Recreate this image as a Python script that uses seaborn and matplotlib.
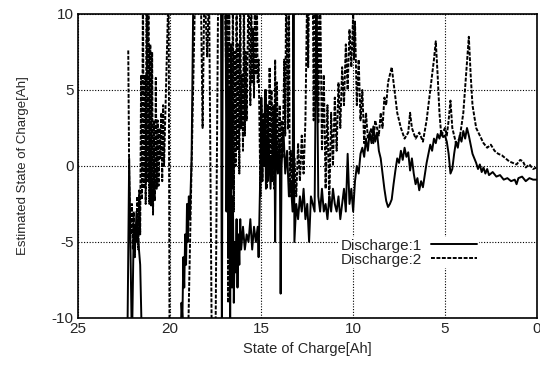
import numpy as np
import pandas as pd
import matplotlib
matplotlib.use("Agg")
import matplotlib.pyplot as plt
import seaborn as sns

# Discharge 1 (solid), values beyond +-10 are clipped
soc_1 = [22.35, 22.3, 22.2, 22.05, 21.95, 21.9, 21.8, 21.7, 21.6, 21.5, 19.4,
         19.35, 19.3, 19.25, 19.2, 19.15, 19.1, 19.05, 19.0, 18.95, 18.9, 18.8, 18.7,
         17.2, 17.15, 17.1, 16.95, 16.9, 16.85, 16.8, 16.75, 16.7, 16.65, 16.6, 16.55,
         16.5, 16.45, 16.4, 16.35, 16.3, 16.25, 16.2, 16.15, 16.1, 16.0, 15.9, 15.8,
         15.7, 15.6, 15.5, 15.4, 15.3, 15.2, 15.15, 15.1, 15.05, 15.0, 14.95, 14.9,
         14.85, 14.8, 14.75, 14.7, 14.65, 14.6, 14.5, 14.45, 14.4, 14.3, 14.25, 14.2,
         14.1, 14.0, 13.95, 13.9, 13.8, 13.7, 13.6, 13.5, 13.4, 13.3, 13.25, 13.2,
         13.1, 13.0, 12.9, 12.8, 12.7, 12.6, 12.5, 12.4, 12.3, 12.1, 12.0, 11.9,
         11.8, 11.7, 11.6, 11.5, 11.4, 11.3, 11.2, 11.1, 11.0, 10.9, 10.8, 10.7,
         10.6, 10.5, 10.4, 10.3, 10.2, 10.1, 10.0, 9.9, 9.8, 9.7, 9.6, 9.5, 9.4,
         9.3, 9.2, 9.1, 9.0, 8.9, 8.8, 8.7, 8.6, 8.5, 8.4, 8.3, 8.2, 8.1, 8.0, 7.9,
         7.8, 7.7, 7.6, 7.5, 7.4, 7.3, 7.2, 7.1, 7.0, 6.9, 6.8, 6.7, 6.6, 6.5, 6.4,
         6.3, 6.2, 6.1, 6.0, 5.9, 5.8, 5.7, 5.6, 5.5, 5.4, 5.3, 5.2, 5.1, 5.0, 4.9,
         4.8, 4.7, 4.6, 4.5, 4.4, 4.3, 4.2, 4.1, 4.0, 3.9, 3.8, 3.7, 3.6, 3.5, 3.4,
         3.3, 3.2, 3.1, 3.0, 2.9, 2.8, 2.7, 2.6, 2.4, 2.2, 2.0, 1.8, 1.6, 1.4, 1.2,
         1.1, 1.0, 0.8, 0.6, 0.4, 0.2, 0.0]
est_1 = [-12, -12, 0.5, -12, -4, -6, -3, -5, -6.5, -12, -12,
         -9, -10, -6, -8, -4.5, -6.5, -2.5, -5, -2, -3.5, 0.5, 12,
         12, -12, 12, 12, -3, 8, -6, 5, -10.5, 2, -8, -2,
         -9, -5, -7, -3.5, -8, -4.5, -6.5, -3.5, -5.5, -4, -5.5, -4.5,
         -5, -3.5, -5.5, -4, -5, -4, -6, -3, 0, 4.5, -1, 3,
         0, 5, -1.5, 2, -1, 1.5, -1.5, 0.5, -1, 4, -5, 2,
         -0.5, 1.5, -8.4, 0, 2.5, -0.5, 1, -2, -1, -3, 12, -5,
         -2.5, -3.5, -2, -3, -1.5, -3.5, -2.5, -5, -2, -3, 12, -2,
         -3, -1.5, -3, -2.5, -3.5, -2, -3, -1.5, -2.5, -3, -2, -3.5,
         -2.5, -1.5, -3, 0.8, -2.5, -1.5, -3, -1, 0, -0.5, 0.8, 1.2, 0.6,
         1.8, 1.0, 2.2, 1.5, 2.6, 1.6, 2.2, 1.0, 0.5, -0.5, -1.5, -2.3, -2.7, -2.5, -2.2,
         -1.2, -0.3, 0.5, 0.2, 1.0, 0.4, 1.2, 0.6, 0.9, -0.3, 0.5, -0.5, -1.2, -0.8, -1.6,
         -1.0, -1.4, -0.6, 0.2, 0.8, 1.4, 1.0, 1.8, 1.5, 2.1, 1.8, 2.3, 1.9, 2.0, 1.6,
         0.8, -0.5, -0.2, 0.8, 1.6, 1.2, 2.0, 1.6, 2.3, 1.8, 2.5, 2.0, 1.4, 0.8, 0.5,
         0.2, -0.2, 0.1, -0.4, -0.1, -0.5, -0.2, -0.6, -0.4, -0.7, -0.6, -0.9, -0.8, -1.0, -0.9,
         -1.2, -0.8, -0.7, -1.0, -0.8, -0.9, -0.9]

# Discharge 2 (dashed)
soc_2 = [22.25, 22.2, 22.15, 22.1, 22.05, 22.0, 21.95, 21.9, 21.85, 21.8, 21.75,
         21.7, 21.65, 21.6, 21.55, 21.5, 21.45, 21.4, 21.35, 21.3, 21.25, 21.2,
         21.15, 21.1, 21.05, 21.0, 20.95, 20.9, 20.85, 20.8, 20.75, 20.7, 20.65,
         20.6, 20.55, 20.5, 20.45, 20.4, 20.35, 20.3, 20.05, 20.0, 19.0, 18.6,
         18.3, 18.2, 18.1, 17.95, 17.85, 17.7, 17.5, 17.45, 17.35, 17.0, 16.9,
         16.85, 16.8, 16.75, 16.7, 16.65, 16.6, 16.55, 16.5, 16.45, 16.4, 16.35,
         16.3, 16.25, 16.2, 16.15, 16.1, 16.05, 16.0, 15.95, 15.9, 15.85, 15.8,
         15.7, 15.6, 15.55, 15.5, 15.45, 15.4, 15.35, 15.3, 15.25, 15.2, 15.15,
         15.05, 15.0, 14.95, 14.9, 14.8, 14.75, 14.7, 14.65, 14.6, 14.55, 14.5,
         14.45, 14.4, 14.35, 14.3, 14.25, 14.2, 14.15, 14.1, 14.0, 13.95, 13.9,
         13.85, 13.75, 13.7, 13.65, 13.55, 13.5, 13.45, 13.4, 13.3, 13.2, 13.1,
         13.0, 12.9, 12.8, 12.7, 12.6, 12.5, 12.45, 12.4, 12.2, 12.15, 12.1,
         11.95, 11.9, 11.8, 11.7, 11.6, 11.5, 11.4, 11.3, 11.2, 11.1, 11.0, 10.9,
         10.8, 10.7, 10.6, 10.5, 10.4, 10.3, 10.2, 10.1, 10.0, 9.95, 9.9, 9.8,
         9.7, 9.6, 9.5, 9.4, 9.3, 9.2, 9.0, 8.9, 8.8, 8.6, 8.5, 8.4, 8.3, 8.2,
         8.1, 8.0, 7.9, 7.8, 7.7, 7.6, 7.4, 7.2, 7.0, 6.9, 6.8, 6.6, 6.4, 6.2,
         6.0, 5.8, 5.6, 5.5, 5.4, 5.3, 5.2, 5.0, 4.9, 4.8, 4.7, 4.6, 4.4, 4.2,
         4.0, 3.85, 3.7, 3.6, 3.5, 3.3, 3.1, 2.9, 2.7, 2.5, 2.3, 2.1, 1.9, 1.7,
         1.5, 1.3, 1.1, 0.9, 0.75, 0.6, 0.4, 0.2, 0.0]
est_2 = [7.6, -0.5, -3.5, -4.5, -2.5, -5.5, -3, -6, -4, -5, -2,
         -5.5, -1.6, -4.5, 6, -2.2, 12, -1.5, 6, -2.5, 12, -1,
         12, -2.5, 8, -2.6, 7.5, -3.2, 3, -2.3, 5.8, -1.5, 3,
         -1.3, 2.5, 0.5, 3.5, -1, 4, 0, 12, -12, -12, 12,
         12, 2.5, 12, 7.2, 12, -12, -12, -4.2, 12, 12, 4.8,
         12, -9, 12, -7, 8, -1.5, 12, -3, 7.5, 0, 12,
         1, 8, -0.5, 12, 2.5, 6, 1, 12, 2, 7.5, 3,
         12, 4, 12, 5.5, 9, 4.5, 12, 6, 12, 5.5, 7,
         -2, 4, -1, 3.5, 0, 5, -1.5, 4, 1, 6.5, -0.5,
         5, 0, 4, -1.5, 7, 1, 5.5, 0, 4, -1, 3,
         0.5, 7, 2, 12, 2.4, 12, -2, 1, -1.5, 0.5, -2,
         1.5, -1, 2, -0.5, 3, 12, 6.5, 12, 12, 3, 12,
         12, 2.8, 12, 1, 6, -1.5, 4, -2.5, 3.5, 0, 4.5, 1,
         5.5, 2.5, 6.5, 4, 8, 5, 9, 6.5, 10, 7, 9.5, 4,
         7, 3, 5, 1.5, 3.5, 1.8, 2.5, 1.5, 3, 2, 3.5, 2.5, 4.5, 4,
         5.5, 6, 6.5, 5.5, 4.5, 3.5, 2.5, 1.8, 2.2, 3.5, 2.5, 1.8, 2.2, 1.6,
         3, 5, 7, 8.2, 6, 3.5, 2, 2.5, 2, 3, 4.3, 2.5, 1.5, 1.8,
         3.5, 6, 8.5, 6, 4, 2.5, 2, 1.5, 1.2, 1.4, 1.0, 0.8, 0.7, 0.5,
         0.3, 0.2, 0.1, 0.4, 0.3, -0.1, 0.1, -0.2, -0.1]

x_ticks = [25, 20, 15, 10, 5, 0]
y_ticks = [-10, -5, 0, 5, 10]

df1 = pd.DataFrame({"soc": soc_1, "est": est_1})
df2 = pd.DataFrame({"soc": soc_2, "est": est_2})

sns.set_style("white")
plt.rcParams['font.family'] = ['Liberation Sans', 'DejaVu Sans']
plt.rcParams['axes.unicode_minus'] = False

fig = plt.figure(figsize=(5.4, 3.68), dpi=100)
ax = fig.add_axes([0.144, 0.136, 0.85, 0.826])

sns.lineplot(data=df1, x="soc", y="est", sort=False, estimator=None, ax=ax,
             color="black", linewidth=1.4, label="Discharge:1")
sns.lineplot(data=df2, x="soc", y="est", sort=False, estimator=None, ax=ax,
             color="black", linewidth=1.4, dashes=False, label="Discharge:2",
             linestyle=(0, (2.0, 0.8)))

ax.set_xlim(25, 0)
ax.set_ylim(-10, 10)
ax.set_xticks(x_ticks)
ax.set_yticks(y_ticks)
ax.grid(True, color="black", linestyle=(0, (1, 1.5)), linewidth=0.8)
for s in ax.spines.values():
    s.set_color("black")
    s.set_linewidth(1.2)
ax.tick_params(labelsize=11, length=0, pad=3)
ax.set_xlabel("State of Charge[Ah]", fontsize=10.5, labelpad=4)
ax.set_ylabel("Estimated State of Charge[Ah]", fontsize=9.5, labelpad=16)

leg = ax.legend(loc="center right", bbox_to_anchor=(0.89, 0.215), frameon=True,
                markerfirst=False, fontsize=11, handlelength=3.0,
                borderpad=0.1, labelspacing=0.0, handletextpad=0.6)
leg.get_frame().set_facecolor("white")
leg.get_frame().set_edgecolor("none")
leg.get_frame().set_alpha(1)

fig.savefig("out.png", dpi=100)
